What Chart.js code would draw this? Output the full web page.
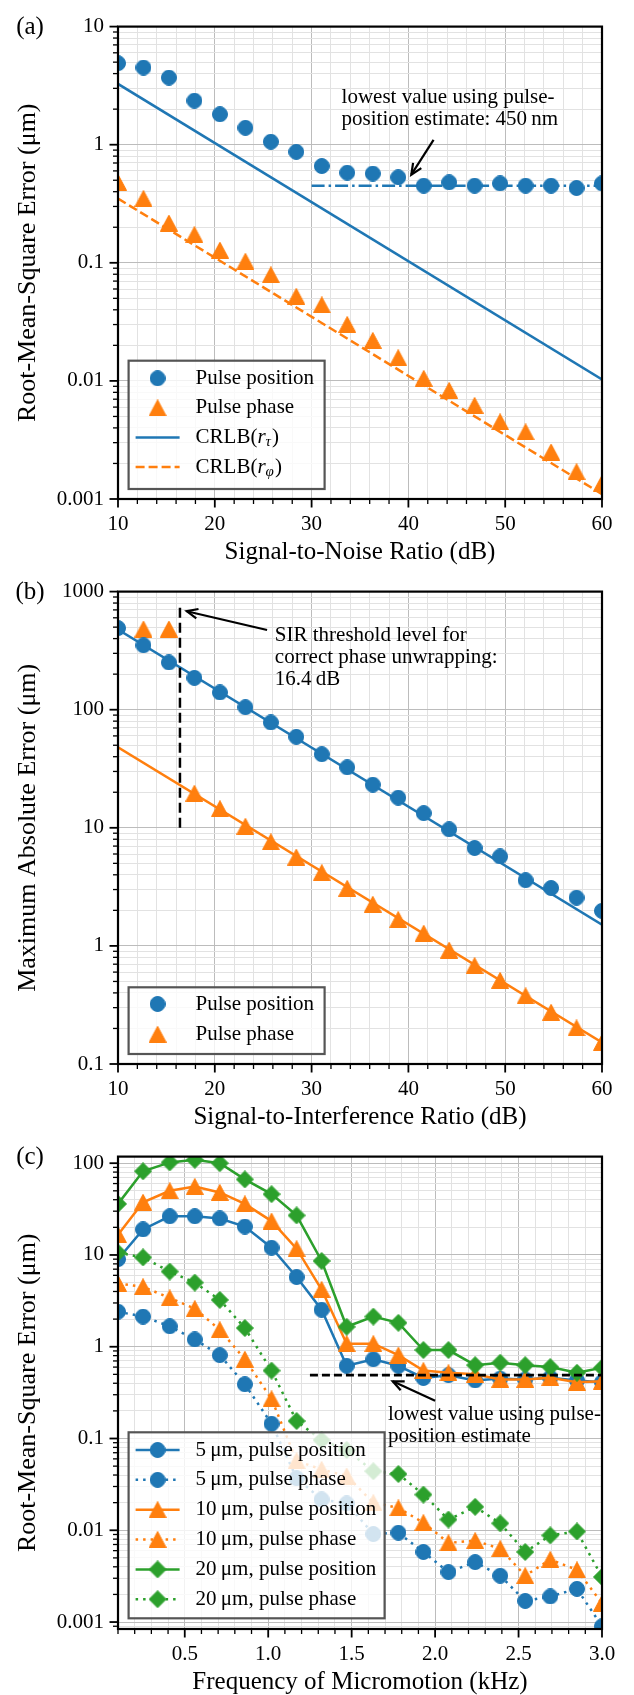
<!DOCTYPE html>
<html><head><meta charset="utf-8">
<script src="https://cdn.jsdelivr.net/npm/chart.js@4.4.1/dist/chart.umd.min.js"></script>
<style>
html,body{margin:0;padding:0;background:#fff;width:634px;height:1695px;overflow:hidden}
.p{position:absolute;left:0;width:634px;height:565px}
canvas{display:block}
</style></head><body>
<div class="p" style="top:0"><canvas id="ca" width="634" height="565"></canvas></div>
<div class="p" style="top:565px"><canvas id="cb" width="634" height="565"></canvas></div>
<div class="p" style="top:1130px"><canvas id="cc" width="634" height="565"></canvas></div>
<script>
// ---------------- DATA ----------------
// Panel (a)
const snrA = [10, 12.63, 15.26, 17.89, 20.53, 23.16, 25.79, 28.42, 31.05, 33.68, 36.32, 38.95, 41.58, 44.21, 46.84, 49.47, 52.11, 54.74, 57.37, 60];
const posRmsA = [4.9, 4.5, 3.7, 2.36, 1.81, 1.39, 1.06, 0.87, 0.66, 0.58, 0.57, 0.53, 0.45, 0.48, 0.45, 0.47, 0.45, 0.45, 0.43, 0.47];
const phaseRmsA = [0.48, 0.35, 0.217, 0.173, 0.128, 0.103, 0.079, 0.052, 0.044, 0.030, 0.022, 0.0157, 0.0105, 0.0083, 0.0062, 0.0045, 0.0037, 0.0025, 0.0017, 0.00136];
const crlbTauX = [10, 60];
const crlbTauY = [3.27, 0.0103];
const crlbPhiX = [10, 60];
const crlbPhiY = [0.35, 0.0011];
const floorAX = [30, 60];
const floorAY = [0.45, 0.45];
const xTickValsAB = [10, 20, 30, 40, 50, 60];
const xTickLblsAB = ['10', '20', '30', '40', '50', '60'];
const yTickValsA = [0.001, 0.01, 0.1, 1, 10];
const yTickLblsA = ['0.001', '0.01', '0.1', '1', '10'];

// Panel (b)
const sirB = [10, 12.63, 15.26, 17.89, 20.53, 23.16, 25.79, 28.42, 31.05, 33.68, 36.32, 38.95, 41.58, 44.21, 46.84, 49.47, 52.11, 54.74, 57.37, 60];
const posMaxB = [491, 351, 251, 186, 140, 105, 78, 59, 42, 32.5, 23.2, 18, 13.3, 9.7, 6.75, 5.72, 3.6, 3.09, 2.56, 1.98];
const phaseMaxB = [null, 482, 482, 19.6, 14.5, 10.3, 7.6, 5.65, 4.17, 3.07, 2.25, 1.67, 1.28, 0.92, 0.68, 0.51, 0.377, 0.274, 0.202, 0.152];
const fitPosBX = [10, 60];
const fitPosBY = [477, 1.51];
const fitPhaseBX = [10, 60];
const fitPhaseBY = [48, 0.152];
const thresholdBX = [16.4, 16.4];
const thresholdBY = [10, 780];
const yTickValsB = [0.1, 1, 10, 100, 1000];
const yTickLblsB = ['0.1', '1', '10', '100', '1000'];

// Panel (c)
const freqC = [0.10, 0.25, 0.41, 0.56, 0.71, 0.86, 1.02, 1.17, 1.32, 1.47, 1.63, 1.78, 1.93, 2.08, 2.24, 2.39, 2.54, 2.69, 2.85, 3.00];
const pos5 = [9.0, 19, 26.4, 26.4, 25, 20.4, 12, 5.75, 2.53, 0.62, 0.73, 0.62, 0.457, 0.49, 0.43, 0.45, 0.44, 0.46, 0.43, 0.41];
const phase5 = [2.41, 2.13, 1.67, 1.2, 0.81, 0.39, 0.145, 0.037, 0.0217, 0.0196, 0.0091, 0.0094, 0.0058, 0.0035, 0.0045, 0.0032, 0.0017, 0.0019, 0.0023, 0.0009];
const pos10 = [16.6, 37.5, 50, 55.6, 48, 36, 23.4, 11.7, 4.2, 1.08, 1.08, 0.81, 0.55, 0.52, 0.5, 0.44, 0.44, 0.46, 0.41, 0.42];
const phase10 = [4.9, 4.5, 3.4, 2.6, 1.53, 0.73, 0.27, 0.057, 0.046, 0.039, 0.020, 0.0175, 0.0121, 0.0073, 0.0077, 0.0063, 0.0032, 0.0048, 0.0037, 0.0016];
const pos20 = [36, 81.6, 102, 109, 100, 66.6, 46, 27, 8.6, 1.65, 2.13, 1.82, 0.92, 0.92, 0.63, 0.67, 0.63, 0.6, 0.52, 0.59];
const phase20 = [10.6, 9.4, 6.6, 5.0, 3.24, 1.6, 0.55, 0.155, 0.096, 0.075, 0.044, 0.041, 0.0245, 0.0131, 0.018, 0.0119, 0.0058, 0.0088, 0.0097, 0.0031];
const floorCX = [1.25, 3.0];
const floorCY = [0.49, 0.49];
const xTickValsC = [0.5, 1.0, 1.5, 2.0, 2.5, 3.0];
const xTickLblsC = ['0.5', '1.0', '1.5', '2.0', '2.5', '3.0'];
const yTickValsC = [0.001, 0.01, 0.1, 1, 10, 100];
const yTickLblsC = ['0.001', '0.01', '0.1', '1', '10', '100'];

// ---------------- STYLE / HELPERS ----------------
const SERIF = "'Liberation Serif','Times New Roman',serif";
const BLUE = '#1f77b4', ORANGE = '#ff7f0e', GREEN = '#2ca02c';
const GRID_MAJ = '#bcbcbc', GRID_MIN = '#e2e2e2';
const LW = 2.5;
const DOT = [2.5, 5];
Chart.defaults.font.family = SERIF;
Chart.defaults.font.size = 21;
Chart.defaults.color = '#000';
Chart.defaults.animation = false;

function pts(xs, ys) { return xs.map((x, i) => ({x: x, y: ys[i]})); }
function near(a, b) { return Math.abs(a - b) <= 1e-6 * Math.max(1, Math.abs(b)); }
function lookup(vals, lbls, v) { for (let i = 0; i < vals.length; i++) { if (Math.abs(vals[i] - v) <= 1e-6 * Math.abs(vals[i])) return lbls[i]; } return ''; }

function markerCanvas(shape, color, w, h) {
  const c = document.createElement('canvas'); c.width = w; c.height = h;
  const g = c.getContext('2d'); g.fillStyle = color; g.strokeStyle = color; g.lineWidth = 1;
  g.beginPath();
  if (shape === 'circle') g.arc(w / 2, h / 2, Math.min(w, h) / 2 - 0.5, 0, Math.PI * 2);
  else if (shape === 'triangle') { g.moveTo(w / 2, 0.5); g.lineTo(w - 0.5, h - 0.5); g.lineTo(0.5, h - 0.5); g.closePath(); }
  else { g.moveTo(w / 2, 0.5); g.lineTo(w - 0.5, h / 2); g.lineTo(w / 2, h - 0.5); g.lineTo(0.5, h / 2); g.closePath(); }
  g.fill(); g.stroke();
  return c;
}
const M = {
  cB: markerCanvas('circle', BLUE, 16, 16),
  tO: markerCanvas('triangle', ORANGE, 18, 17),
  dG: markerCanvas('diamond', GREEN, 18, 18)
};

function logTicks(min, max) {
  const out = [];
  for (let k = Math.floor(Math.log10(min)); k <= Math.ceil(Math.log10(max)); k++) {
    for (let m = 1; m <= 9; m++) {
      const v = parseFloat((m * Math.pow(10, k)).toPrecision(8));
      if (v >= min * 0.99999 && v <= max * 1.00001) out.push({value: v});
    }
  }
  return out;
}
function linTicks(start, end, step) {
  const out = []; const n = Math.round((end - start) / step);
  for (let i = 0; i <= n; i++) out.push({value: parseFloat((start + i * step).toFixed(6))});
  return out;
}
function isDecade(v) { const l = Math.log10(v); return Math.abs(l - Math.round(l)) < 1e-6; }

function makeScales(xc, yc) {
  return {
    x: {
      type: 'linear', min: xc.min, max: xc.max,
      afterBuildTicks: s => { s.ticks = linTicks(xc.start, xc.max, xc.step); },
      afterFit: s => { s.height = 66; },
      grid: { color: c => (c.tick && xc.major(c.tick.value)) ? GRID_MAJ : GRID_MIN, lineWidth: 1, drawTicks: false },
      border: { display: false },
      ticks: { autoSkip: false, maxRotation: 0, minRotation: 0, padding: 13, color: '#000', font: {size: 21, family: SERIF},
        callback: v => lookup(xc.vals, xc.lbls, v) }
    },
    y: {
      type: 'logarithmic', min: yc.min, max: yc.max,
      afterBuildTicks: s => { s.ticks = logTicks(yc.min, yc.max); },
      afterFit: s => { s.width = 118; },
      grid: { color: c => (c.tick && isDecade(c.tick.value)) ? GRID_MAJ : GRID_MIN, lineWidth: 1, drawTicks: false },
      border: { display: false },
      ticks: { autoSkip: false, padding: 14, color: '#000', font: {size: 21, family: SERIF},
        callback: v => lookup(yc.vals, yc.lbls, v) }
    }
  };
}

function arrow(ctx, x1, y1, x2, y2) {
  ctx.save(); ctx.strokeStyle = '#000'; ctx.lineWidth = 2.2; ctx.setLineDash([]);
  ctx.beginPath(); ctx.moveTo(x1, y1); ctx.lineTo(x2, y2); ctx.stroke();
  const a = Math.atan2(y2 - y1, x2 - x1), L = 12, s = 0.42;
  ctx.beginPath();
  ctx.moveTo(x2 - L * Math.cos(a - s), y2 - L * Math.sin(a - s));
  ctx.lineTo(x2, y2);
  ctx.lineTo(x2 - L * Math.cos(a + s), y2 - L * Math.sin(a + s));
  ctx.stroke(); ctx.restore();
}

function drawCRLB(ctx, x, y, sub) {
  ctx.font = '21px ' + SERIF; ctx.fillText('CRLB(', x, y); let w = ctx.measureText('CRLB(').width;
  ctx.font = 'italic 21px ' + SERIF; ctx.fillText('r', x + w, y); w += ctx.measureText('r').width;
  ctx.font = 'italic 15px ' + SERIF; ctx.fillText(sub, x + w, y + 5); w += ctx.measureText(sub).width + 1;
  ctx.font = '21px ' + SERIF; ctx.fillText(')', x + w, y);
}

function drawLegend(ctx, box, rows) {
  ctx.save();
  ctx.fillStyle = 'rgba(255,255,255,0.8)';
  ctx.fillRect(box.x, box.y, box.w, box.h);
  ctx.strokeStyle = '#555'; ctx.lineWidth = 2.2; ctx.strokeRect(box.x, box.y, box.w, box.h);
  rows.forEach((r, i) => {
    const y = box.y + box.r0 + i * box.dy;
    if (r.color) {
      ctx.strokeStyle = r.color; ctx.lineWidth = LW; ctx.setLineDash(r.dash || []);
      ctx.beginPath(); ctx.moveTo(box.x + 7, y); ctx.lineTo(box.x + 51, y); ctx.stroke(); ctx.setLineDash([]);
    }
    if (r.marker) ctx.drawImage(r.marker, box.x + 29 - r.marker.width / 2, y - r.marker.height / 2);
    ctx.fillStyle = '#000'; ctx.textAlign = 'left'; ctx.textBaseline = 'middle';
    if (r.sub) drawCRLB(ctx, box.x + 67, y, r.sub);
    else { ctx.font = '21px ' + SERIF; ctx.fillText(r.label, box.x + 67, y); }
  });
  ctx.restore();
}

function framePlugin(cfg) {
  return {
    id: 'frame_' + cfg.letter,
    afterDraw(chart) {
      const ctx = chart.ctx, a = chart.chartArea, xs = chart.scales.x, ys = chart.scales.y;
      ctx.save();
      ctx.strokeStyle = '#000'; ctx.setLineDash([]);
      xs.ticks.forEach(t => {
        const px = xs.getPixelForValue(t.value), maj = cfg.xMajor(t.value);
        ctx.lineWidth = maj ? 1.8 : 1.3; ctx.beginPath(); ctx.moveTo(px, a.bottom); ctx.lineTo(px, a.bottom + (maj ? 8.5 : 5)); ctx.stroke();
      });
      ys.ticks.forEach(t => {
        const py = ys.getPixelForValue(t.value), maj = isDecade(t.value);
        ctx.lineWidth = maj ? 1.8 : 1.3; ctx.beginPath(); ctx.moveTo(a.left, py); ctx.lineTo(a.left - (maj ? 8.5 : 5), py); ctx.stroke();
      });
      ctx.lineWidth = 2.2; ctx.strokeRect(a.left, a.top, a.right - a.left, a.bottom - a.top);
      // titles
      ctx.fillStyle = '#000'; ctx.textAlign = 'center'; ctx.textBaseline = 'middle';
      ctx.font = '25px ' + SERIF; ctx.fillText(cfg.xTitle, (a.left + a.right) / 2, a.bottom + 53);
      ctx.save(); ctx.translate(28, (a.top + a.bottom) / 2); ctx.rotate(-Math.PI / 2);
      ctx.font = '26px ' + SERIF; ctx.fillText(cfg.yTitle, 0, 0); ctx.restore();
      ctx.font = '25px ' + SERIF; ctx.fillText(cfg.letter, 30, a.top + 1);
      // annotation
      if (cfg.note) {
        const n = cfg.note;
        ctx.font = '21px ' + SERIF; ctx.textAlign = 'left'; ctx.textBaseline = 'middle';
        const tx = xs.getPixelForValue(n.x), ty = ys.getPixelForValue(n.y);
        n.lines.forEach((l, i) => ctx.fillText(l, tx, ty + i * 22));
        arrow(ctx, xs.getPixelForValue(n.ax1), ys.getPixelForValue(n.ay1), xs.getPixelForValue(n.ax2), ys.getPixelForValue(n.ay2));
      }
      if (cfg.legend) drawLegend(ctx, cfg.legend.box, cfg.legend.rows);
      ctx.restore();
    }
  };
}

const baseOpts = (scales) => ({
  responsive: false, animation: false, devicePixelRatio: 1,
  layout: { padding: { top: 15, right: 32, bottom: 0, left: 0 } },
  plugins: { legend: { display: false }, tooltip: { enabled: false } },
  events: [],
  scales: scales
});

function markerSet(xs, ys, img, order) {
  return { data: pts(xs, ys), showLine: false, pointStyle: img, pointRadius: 8, borderColor: 'rgba(0,0,0,0)', backgroundColor: 'rgba(0,0,0,0)', clip: 0, order: order };
}
function lineSet(xs, ys, color, dash, order, width) {
  return { data: pts(xs, ys), borderColor: color, borderWidth: width || LW, borderDash: dash || [], pointRadius: 0, clip: 0, order: order, fill: false, tension: 0 };
}

// ---------------- PANEL (a) ----------------
new Chart(document.getElementById('ca'), {
  type: 'line',
  data: { datasets: [
    markerSet(snrA, posRmsA, M.cB, 1),
    markerSet(snrA, phaseRmsA, M.tO, 2),
    lineSet(crlbTauX, crlbTauY, BLUE, [], 5),
    lineSet(crlbPhiX, crlbPhiY, ORANGE, [9, 4], 4),
    lineSet(floorAX, floorAY, BLUE, [13, 4, 2.5, 4], 3)
  ]},
  options: baseOpts(makeScales(
    {min: 10, max: 60, start: 10, step: 2, vals: xTickValsAB, lbls: xTickLblsAB, major: v => near(v % 10, 0)},
    {min: 0.001, max: 10, vals: yTickValsA, lbls: yTickLblsA})),
  plugins: [framePlugin({
    letter: '(a)', xTitle: 'Signal-to-Noise Ratio (dB)', yTitle: 'Root-Mean-Square Error (μm)',
    xMajor: v => near(v % 10, 0),
    note: { x: 33.1, y: 2.5, lines: ['lowest value using pulse-', 'position estimate: 450\u2009nm'], ax1: 42.6, ay1: 1.1, ax2: 40.3, ay2: 0.557 },
    legend: { box: {x: 128.6, y: 360.7, w: 196, h: 128.3, r0: 17.6, dy: 29.6}, rows: [
      {marker: M.cB, label: 'Pulse position'},
      {marker: M.tO, label: 'Pulse phase'},
      {color: BLUE, sub: 'τ'},
      {color: ORANGE, dash: [9, 4], sub: 'φ'}
    ]}
  })]
});

// ---------------- PANEL (b) ----------------
new Chart(document.getElementById('cb'), {
  type: 'line',
  data: { datasets: [
    markerSet(sirB, posMaxB, M.cB, 1),
    markerSet(sirB, phaseMaxB, M.tO, 2),
    lineSet(fitPosBX, fitPosBY, BLUE, [], 4),
    lineSet(fitPhaseBX, fitPhaseBY, ORANGE, [], 5),
    lineSet(thresholdBX, thresholdBY, '#000', [10, 5], 3, 2.5)
  ]},
  options: baseOpts(makeScales(
    {min: 10, max: 60, start: 10, step: 2, vals: xTickValsAB, lbls: xTickLblsAB, major: v => near(v % 10, 0)},
    {min: 0.1, max: 1000, vals: yTickValsB, lbls: yTickLblsB})),
  plugins: [framePlugin({
    letter: '(b)', xTitle: 'Signal-to-Interference Ratio (dB)', yTitle: 'Maximum Absolute Error (μm)',
    xMajor: v => near(v % 10, 0),
    note: { x: 26.2, y: 424, lines: ['SIR threshold level for', 'correct phase unwrapping:', '16.4\u2009dB'], ax1: 25.4, ay1: 473, ax2: 17.1, ay2: 682 },
    legend: { box: {x: 128.6, y: 422.3, w: 196, h: 66.7, r0: 16.7, dy: 30.3}, rows: [
      {marker: M.cB, label: 'Pulse position'},
      {marker: M.tO, label: 'Pulse phase'}
    ]}
  })]
});

// ---------------- PANEL (c) ----------------
function cSet(ys, color, img, dotted, order) {
  return { data: pts(freqC, ys), borderColor: color, borderWidth: LW, borderDash: dotted ? DOT : [],
    pointStyle: img, pointRadius: 8, backgroundColor: color, clip: 0, order: order, fill: false, tension: 0 };
}
new Chart(document.getElementById('cc'), {
  type: 'line',
  data: { datasets: [
    cSet(pos5, BLUE, M.cB, false, 6),
    cSet(phase5, BLUE, M.cB, true, 5),
    cSet(pos10, ORANGE, M.tO, false, 4),
    cSet(phase10, ORANGE, M.tO, true, 3),
    cSet(pos20, GREEN, M.dG, false, 2),
    cSet(phase20, GREEN, M.dG, true, 1),
    lineSet(floorCX, floorCY, '#000', [8, 4], 0, 2.7)
  ]},
  options: baseOpts(makeScales(
    {min: 0.1, max: 3.0, start: 0.1, step: 0.1, vals: xTickValsC, lbls: xTickLblsC, major: v => near((v * 10) % 5, 0)},
    {min: 0.00084, max: 118, vals: yTickValsC, lbls: yTickLblsC})),
  plugins: [framePlugin({
    letter: '(c)', xTitle: 'Frequency of Micromotion (kHz)', yTitle: 'Root-Mean-Square Error (μm)',
    xMajor: v => near((v * 10) % 5, 0),
    note: { x: 1.718, y: 0.183, lines: ['lowest value using pulse-', 'position estimate'], ax1: 2.0, ay1: 0.258, ax2: 1.746, ay2: 0.42 },
    legend: { box: {x: 128.6, y: 302.3, w: 256, h: 186, r0: 17.7, dy: 29.85}, rows: [
      {marker: M.cB, color: BLUE, label: '5\u2009μm, pulse position'},
      {marker: M.cB, color: BLUE, dash: DOT, label: '5\u2009μm, pulse phase'},
      {marker: M.tO, color: ORANGE, label: '10\u2009μm, pulse position'},
      {marker: M.tO, color: ORANGE, dash: DOT, label: '10\u2009μm, pulse phase'},
      {marker: M.dG, color: GREEN, label: '20\u2009μm, pulse position'},
      {marker: M.dG, color: GREEN, dash: DOT, label: '20\u2009μm, pulse phase'}
    ]}
  })]
});
</script>
</body></html>
